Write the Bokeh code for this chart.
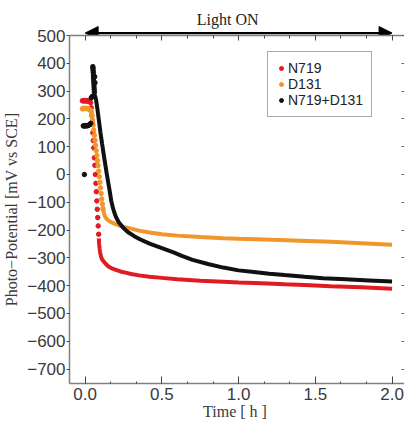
from bokeh.plotting import figure
from bokeh.layouts import column
from bokeh.models import (Legend, LegendItem, LinearAxis, FixedTicker, Arrow,
                          NormalHead, Label, Range1d)
from bokeh.embed import file_html
from bokeh.resources import INLINE

# ---------------- data ----------------
series_names = ["N719", "D131", "N719+D131"]
x_ticks = [0.0, 0.5, 1.0, 1.5, 2.0]
y_ticks = [-700, -600, -500, -400, -300, -200, -100, 0, 100, 200, 300, 400, 500]
light_on = [0.0, 2.0]

# N719 (red)
n719_plateau_t = [-0.018, -0.012, -0.006, 0.000, 0.006, 0.012, 0.018, 0.024, 0.030, 0.036]
n719_plateau_v = [265, 266, 264, 266, 265, 264, 265, 263, 262, 258]
n719_drop_t = [0.040, 0.043, 0.046, 0.050, 0.053, 0.056, 0.060, 0.063, 0.067, 0.070,
               0.073, 0.076, 0.079, 0.082, 0.085, 0.088]
n719_drop_v = [240, 212, 185, 150, 122, 96, 60, 33, 0, -32, -62, -95, -125, -155,
               -185, -215]
n719_t = [0.089, 0.091, 0.094, 0.097, 0.100, 0.105, 0.110, 0.120, 0.135, 0.150, 0.170,
          0.200, 0.230, 0.270, 0.300, 0.350, 0.420, 0.500, 0.600, 0.750, 0.900, 1.000,
          1.150, 1.300, 1.430, 1.600, 1.800, 2.000]
n719_v = [-230, -250, -265, -278, -288, -298, -305, -313, -322, -330, -337, -343, -349,
          -354, -358, -363, -368, -372, -377, -382, -386, -389, -391, -395, -398, -402,
          -406, -411]

# D131 (orange)
d131_plateau_t = [-0.018, -0.012, -0.006, 0.000, 0.006, 0.012, 0.018, 0.024, 0.030, 0.036]
d131_plateau_v = [236, 238, 237, 238, 237, 238, 236, 236, 234, 230]
d131_drop_t = [0.040, 0.044, 0.048, 0.052, 0.056, 0.060, 0.064, 0.068, 0.072, 0.076,
               0.080, 0.084, 0.088, 0.092, 0.096, 0.100, 0.104, 0.108, 0.112, 0.116]
d131_drop_v = [226, 212, 196, 178, 160, 141, 123, 105, 86, 68, 50, 32, 12, -8, -28,
               -48, -68, -88, -106, -122]
d131_t = [0.116, 0.122, 0.126, 0.130, 0.140, 0.150, 0.165, 0.180, 0.200, 0.230, 0.270,
          0.300, 0.350, 0.420, 0.500, 0.600, 0.750, 0.900, 1.000, 1.220, 1.400, 1.600,
          1.800, 2.000]
d131_v = [-122, -138, -146, -152, -160, -165, -170, -174, -179, -185, -191, -195, -202,
          -209, -215, -220, -225, -229, -231, -235, -238, -242, -247, -253]

# N719+D131 (black)
mix_start_t = [-0.005, -0.012, -0.006, 0.000, 0.006, 0.012, 0.018, 0.024, 0.030, 0.036,
               0.040, 0.044, 0.048]
mix_start_v = [0, 175, 174, 176, 175, 175, 176, 177, 180, 184, 276, 279, 281]
mix_peak_t = [0.050, 0.051, 0.052, 0.053, 0.054, 0.055, 0.056, 0.057, 0.058, 0.059,
              0.060, 0.062, 0.064]
mix_peak_v = [388, 382, 374, 366, 356, 346, 336, 326, 316, 306, 296, 352, 330]
mix_t = [0.060, 0.070, 0.080, 0.090, 0.100, 0.110, 0.120, 0.130, 0.140, 0.150, 0.160,
         0.170, 0.180, 0.190, 0.200, 0.220, 0.250, 0.280, 0.320, 0.360, 0.420, 0.500,
         0.580, 0.630, 0.700, 0.800, 0.900, 1.000, 1.100, 1.200, 1.300, 1.430, 1.550,
         1.700, 1.850, 2.000]
mix_v = [290, 272, 235, 192, 150, 112, 75, 40, 5, -28, -60, -95, -118, -137, -152,
         -173, -193, -208, -222, -234, -249, -265, -281, -293, -307, -322, -335, -345,
         -351, -357, -362, -368, -373, -377, -381, -385]

colors = ["#e11b22", "#f0962a", "#111111"]

# ---------------- styling constants ----------------
SANS = "Liberation Sans"
SERIF = "Liberation Serif"
AXIS_COLOR = "#808080"
LABEL_COLOR = "#3a3a3a"
TICK_COLOR = "#444444"
X_RANGE = Range1d(-0.102, 2.081)

# ---------------- main figure ----------------
p = figure(frame_width=335, frame_height=348, output_backend="svg",
           toolbar_location=None, x_range=X_RANGE, y_range=Range1d(-752, 500),
           min_border_left=63, min_border_right=0, min_border_top=8,
           min_border_bottom=45)
p.outline_line_color = None
p.grid.visible = False
p.border_fill_color = None

xa = p.xaxis[0]
xa.ticker = FixedTicker(ticks=x_ticks, minor_ticks=[k / 6 for k in range(13)])
xa.major_label_overrides = {t: f"{t:.1f}" for t in x_ticks}
xa.major_tick_in = 7
xa.major_tick_out = 0
xa.minor_tick_in = 2
xa.minor_tick_out = 0
xa.axis_label = "Time  [ h ]"
xa.axis_label_standoff = 0
xa.major_label_standoff = 4

ya = p.yaxis[0]
ya.ticker = FixedTicker(ticks=y_ticks, minor_ticks=[])
ya.major_label_overrides = {v: str(v).replace("-", "\u2212") for v in y_ticks}
ya.major_tick_in = 0
ya.major_tick_out = 3
ya.minor_tick_in = 0
ya.minor_tick_out = 0
ya.axis_label = "Photo\u2212Potential [mV vs SCE]"
ya.axis_label_standoff = 4
ya.major_label_standoff = 1

for ax in (xa, ya):
    ax.axis_label_text_font = SERIF
    ax.axis_label_text_font_style = "normal"
    ax.axis_label_text_font_size = "16px"
    ax.axis_label_text_color = LABEL_COLOR
    ax.major_label_text_font = SANS
    ax.major_label_text_font_size = "17px"
    ax.major_label_text_color = LABEL_COLOR
    ax.axis_line_color = AXIS_COLOR
    ax.axis_line_width = 1.5
    ax.major_tick_line_color = TICK_COLOR
    ax.minor_tick_line_color = TICK_COLOR

# top axis (ticks only, labels not drawn)
top = LinearAxis(ticker=FixedTicker(ticks=x_ticks, minor_ticks=[k / 6 for k in range(13)]),
                 major_tick_in=5, major_tick_out=0, minor_tick_in=3, minor_tick_out=0,
                 major_label_text_font_size="1px", major_label_text_color=None,
                 major_label_standoff=0,
                 axis_line_color=AXIS_COLOR, axis_line_width=1.5,
                 major_tick_line_color=TICK_COLOR, minor_tick_line_color=TICK_COLOR)
p.add_layout(top, "above")

# right axis (ticks only, labels not drawn)
right = LinearAxis(ticker=FixedTicker(ticks=y_ticks, minor_ticks=[]),
                   major_tick_in=3, major_tick_out=0, minor_tick_in=0, minor_tick_out=0,
                   major_label_text_font_size="1px", major_label_text_color=None,
                   major_label_standoff=0,
                   axis_line_color=None, major_tick_line_color="#666666")
p.add_layout(right, "right")

# ---------------- data marks ----------------
DOT = 4.5
LW = 4

r_n719 = p.scatter(n719_plateau_t, n719_plateau_v, size=DOT, color=colors[0])
p.scatter(n719_drop_t, n719_drop_v, size=DOT, color=colors[0])
p.line(n719_t, n719_v, line_width=LW, color=colors[0])

r_d131 = p.scatter(d131_plateau_t, d131_plateau_v, size=DOT, color=colors[1])
p.scatter(d131_drop_t, d131_drop_v, size=DOT, color=colors[1])
p.line(d131_t, d131_v, line_width=LW, color=colors[1])

r_mix = p.scatter(mix_start_t, mix_start_v, size=DOT, color=colors[2])
p.scatter(mix_peak_t, mix_peak_v, size=DOT, color=colors[2])
p.line(mix_t, mix_v, line_width=LW, color=colors[2])

# ---------------- legend ----------------
legend = Legend(items=[LegendItem(label=series_names[0], renderers=[r_n719]),
                       LegendItem(label=series_names[1], renderers=[r_d131]),
                       LegendItem(label=series_names[2], renderers=[r_mix])],
                location=(198, 266), padding=8, spacing=-1, margin=0,
                glyph_width=10, glyph_height=14, label_height=14, label_standoff=2,
                label_text_font=SANS, label_text_font_size="14px",
                label_text_color="#222222",
                border_line_color="#555555", border_line_width=1.5,
                background_fill_color="white", background_fill_alpha=1.0)
p.add_layout(legend)

# ---------------- "Light ON" strip above the plot ----------------
strip = figure(frame_width=335, frame_height=37, output_backend="svg",
               toolbar_location=None, x_range=X_RANGE, y_range=Range1d(0, 1),
               x_axis_type=None, y_axis_type=None,
               min_border_left=63, min_border_right=0, min_border_top=0,
               min_border_bottom=0, margin=(0, 0, -10, 0))
strip.outline_line_color = None
strip.grid.visible = False
strip.background_fill_color = None
strip.border_fill_color = None
strip.add_layout(Arrow(x_start=light_on[0], y_start=0.12, x_end=light_on[1], y_end=0.12,
                       line_width=2.2, line_color="black",
                       start=NormalHead(size=13, fill_color="black", line_color="black"),
                       end=NormalHead(size=13, fill_color="black", line_color="black")))
strip.add_layout(Label(x=(light_on[0] + light_on[1]) / 2, y=0.49, x_offset=-11,
                       text="Light ON", text_font=SERIF, text_font_size="16px",
                       text_color="#222222", text_align="center",
                       text_baseline="alphabetic"))

layout = column(strip, p, spacing=0)
open("out.html", "w").write(file_html(layout, INLINE))
